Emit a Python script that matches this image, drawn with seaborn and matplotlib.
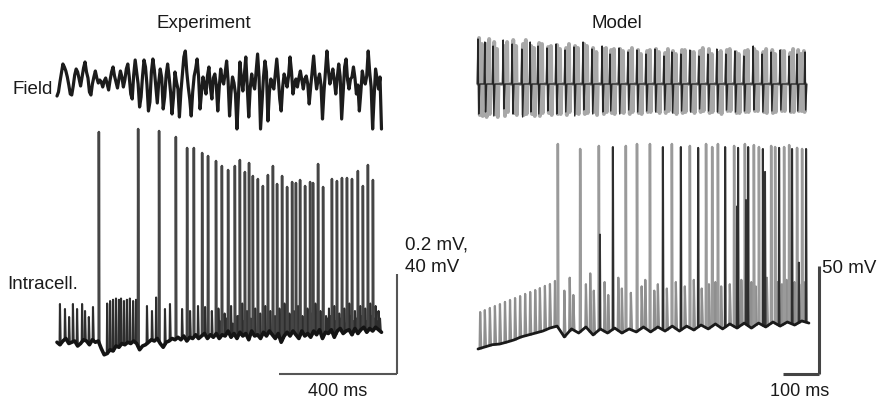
import numpy as np
import pandas as pd
import matplotlib
matplotlib.use("Agg")
import matplotlib.pyplot as plt
import seaborn as sns

sns.set_theme(style="white")
plt.rcParams["font.family"] = ["Liberation Sans", "DejaVu Sans"]

# ---------------- DATA ----------------
# Experiment: field potential (µV), sampled every 5 ms
exp_field_step_ms = 5
exp_field_uv = [-28, -20, 0, 18, 36, 30, 22, 10, -6, -24, -26,
                -8, 14, 26, 20, 6, -8, 10, 28, 40, 20, 8,
                -20, -26, -4, 10, 22, 8, -2, 4, 0, -10, 2,
                8, -4, -16, 4, 20, 30, 12, 0, -12, 6, 22,
                10, -10, 4, 26, 36, 10, -24, -34, 14, 44, 20,
                -4, -50, -30, 12, 44, 30, -6, -58, -40, 20, 46,
                24, -10, -42, 0, 26, 8, -54, -30, 14, 36, 10,
                -20, -64, -30, 20, 0, -14, -70, -20, 16, 50, 62,
                20, -10, -34, -68, -20, 12, 26, 46, 10, -54, -20,
                10, -6, -24, 12, 30, -10, -34, 8, 16, -6, -58,
                -10, 26, 4, -4, 18, 42, 2, -68, -20, 10, -2,
                -24, -94, -30, 40, 8, -18, 14, 50, -10, -70, -12,
                16, -4, -14, 20, 56, 10, -94, -40, 10, 42, 20,
                -78, -20, 6, -6, -14, 16, 46, 10, -34, -58, -10,
                16, 4, -10, 12, 50, 20, -24, -4, 6, -10, 8,
                22, 4, -14, 6, 12, -4, -44, -10, 20, 52, 14,
                -14, 4, 16, -6, -74, -20, 20, 62, 24, -4, 10,
                26, 4, -24, 8, 36, 10, -74, -20, 30, 46, 4,
                -14, 6, 10, 30, 8, -24, -6, -58, -20, 22, 4,
                -4, 12, 62, 20, -10, -94, -30, 26, 6, -14, 10,
                -94]

# Experiment: intracellular baseline (mV), sampled every 10 ms
exp_base_step_ms = 10
exp_base_mv = [-65.5, -66.5, -65, -64, -66, -65.5, -65, -67, -66, -64.5, -65, -66.5, -64.5, -65.5, -65,
               -68, -70.5, -70, -68.5, -69, -67, -67.5, -66, -66.5, -65.5, -66, -65, -66,
               -68.5, -67, -66.5, -65.5, -64.5, -65, -64, -66, -67.5, -65.5, -65, -64, -64.5,
               -63.5, -64.5, -63, -65, -63.5, -64, -62.5, -64, -63, -62, -64, -62.5, -63.5, -62,
               -64, -62.5, -63, -61, -63.5, -62, -64, -61.5, -63, -62, -64.5, -61, -63, -62.5, -64, -61.5,
               -63, -61, -62.5, -64, -62, -65.5, -63, -61.5, -63, -61, -62.5, -64, -61, -63, -62, -63.5,
               -61, -62.5, -60.5, -64, -61.5, -62, -60.5, -63.5, -61, -60, -62, -61, -60.5, -62.5, -60, -62,
               -60.5, -59.5, -61.5, -60, -61, -59.5, -60.5, -61.5]

# Experiment: action potentials (time ms, peak mV)
exp_spike_t = [142, 275, 346, 403, 441, 464, 492, 512, 539, 559, 580, 603, 620, 637, 651, 664, 681,
               698, 715, 732, 746, 763, 780, 797, 810, 824, 841, 858, 868, 885, 902, 932, 949, 966,
               983, 1000, 1020, 1037, 1054, 1071]
exp_spike_v = [18.6, 19.8, 19.0, 16.6, 12.2, 12.2, 10.2, 9.0, 7.0, 5.0, 3.4, 5.0, 7.4, 2.6, 6.2, 1.0,
               -0.2, -3.0, 1.4, 5.0, -2.2, 1.0, -3.4, -1.4, -1.8, -0.6, -3.0, -1.4, -1.8, 5.8, -3.4,
               -0.2, -1.0, 0.2, 0.2, -0.2, 3.0, -3.0, 5.4, -0.6]

# Experiment: subthreshold events (time ms, peak mV)
exp_small_t = [10, 27, 41, 54, 68, 85, 95, 108, 122,
               170, 180, 190, 200, 210, 217, 227, 237, 247, 258, 268,
               305, 322, 336, 366, 383, 424, 451, 478, 502, 525,
               547, 568, 590, 611, 628, 644, 657, 672, 689, 706, 723, 739, 754, 771, 788, 803, 817,
               832, 849, 863, 876, 893, 912, 922, 940, 957, 974, 991, 1010, 1028, 1045, 1062, 1080, 1090,
               552, 575, 596, 616, 633, 648, 668, 685, 702, 719, 735, 750, 767, 784, 800, 814, 828,
               845, 854, 872, 889, 898, 917, 927, 945, 962, 979, 995, 1005, 1015, 1033, 1050, 1058,
               1067, 1076, 1085, 1095]
exp_small_v = [-50.2, -52.2, -55.4, -50.2, -52.2, -50.2, -53, -55.4, -51.4,
               -50, -49, -48.5, -48, -48.5, -48, -49, -48.5, -48, -49, -48.5,
               -51, -53, -47.6, -52.2, -50.2, -52.2, -53, -51, -51.4, -53,
               -52, -54, -51, -55, -50, -53, -56, -52, -54, -51, -53, -55, -52, -50, -54, -53, -51,
               -55, -52, -54, -50, -53, -55, -52, -51, -54, -52, -50, -53, -51, -52, -50, -51, -53,
               -57, -56, -58, -55, -57, -56, -58, -57, -55, -56, -58, -57, -56, -55, -57, -58, -56,
               -57, -55, -56, -58, -57, -56, -55, -57, -56, -58, -55, -57, -56, -55, -57, -56,
               -55, -56, -57, -56]

# Model: field (a.u.), overlaid traces, events (time ms, up, down)
mod_fk_t = [0, 19, 42, 70, 95, 122, 145, 167, 192, 217, 242, 267, 292, 317, 345, 367, 392, 417, 442,
            467, 492, 517, 539, 564, 589, 614, 639, 664, 689, 714, 739, 765, 790, 815, 840, 865, 887, 909]
mod_fk_up = [45, 42, 38, 44, 40, 35, 42, 38, 36, 40, 34, 37, 42, 35, 38, 30, 36, 32, 34, 30, 35, 28,
             32, 30, 34, 28, 30, 35, 30, 33, 28, 38, 30, 32, 34, 28, 30, 32]
mod_fk_dn = [-30, -28, -32, -25, -30, -33, -28, -30, -27, -30, -28, -32, -26, -30, -28, -27, -30, -26,
             -28, -27, -28, -26, -29, -27, -28, -25, -27, -28, -26, -28, -27, -26, -28, -27, -26, -28,
             -27, -26]
mod_fg_t = [11, 31, 53, 81, 106, 133, 156, 178, 203, 228, 253, 278, 303, 329, 356, 378, 403, 428, 453,
            478, 503, 528, 550, 575, 600, 625, 650, 675, 700, 725, 750, 776, 801, 826, 851, 876, 898,
            3, 22, 45, 73, 98, 125, 148, 170, 195, 220, 245, 270, 295, 320, 348, 370, 395, 420, 445,
            470, 495, 520, 542, 567, 592, 617, 642, 667, 692, 717, 742, 768, 793, 818, 843, 868, 890, 906]
mod_fg_up = [40, 45, 35, 42, 38, 44, 36, 40, 38, 35, 40, 36, 38, 32, 36, 35, 33, 36, 30, 34, 32, 35,
             30, 34, 32, 36, 30, 33, 35, 30, 34, 32, 35, 30, 33, 35, 30,
             46, 40, 42, 38, 44, 40, 38, 41, 37, 39, 36, 38, 40, 36, 35, 34, 35, 33, 34,
             33, 35, 31, 33, 34, 32, 33, 35, 31, 34, 32, 33, 35, 32, 34, 33, 31, 34, 33]
mod_fg_dn = [-32, -30, -33, -28, -31, -30, -32, -29, -31, -30, -28, -30, -29, -31, -28, -30, -29, -28,
             -30, -28, -29, -27, -30, -28, -29, -27, -28, -30, -27, -29, -28, -27, -29, -28, -27, -28, -27,
             -31, -33, -30, -32, -29, -31, -30, -32, -29, -30, -31, -29, -30, -28, -30, -29, -28, -30,
             -29, -28, -27, -29, -28, -29, -27, -28, -29, -28, -27, -29, -28, -27, -28, -29, -27, -28,
             -27, -28]

# Model: intracellular baseline (mV) every 20 ms
mod_base_step_ms = 20
mod_base_mv = [-75, -74, -73, -72.7, -71.8, -70.8, -69.4, -68.5, -67.6, -66.7, -65.3, -64.4, -69.4,
               -65.7, -67.6, -64.8, -68.5, -65.7, -67.6, -65.3, -67.6, -65.7, -67.1, -64.8, -67.1,
               -64.8, -66.7, -64.4, -66.7, -64.4, -66.2, -63.9, -65.7, -63.4, -65.7, -63.4, -65.3,
               -63, -65.3, -63, -64.8, -62.5, -64.4, -62.5, -63.9, -62, -63]

# Model: spikes (time ms, peak mV, trace: 'g' grey / 'k' black)
mod_spike_t = [222, 284, 336, 375, 411, 442, 478, 514, 539, 564, 589, 612, 634, 651, 667, 687, 712,
               723, 742, 751, 767, 781, 792, 815, 826, 837, 851, 865, 873, 887, 901, 912]
mod_spike_v = [19.9, 17.6, 19.0, 18.5, 19.0, 19.9, 19.9, 18.5, 19.9, 18.5, 19.0, 18.1, 19.9, 18.5,
               19.9, 18.5, 19.0, 18.1, 19.9, 18.5, 19.4, 18.5, 17.6, 19.0, 18.5, 18.1, 18.5, 19.4,
               17.6, 18.1, 17.6, 17.6]
mod_spike_tr = ["g", "g", "g", "k", "g", "g", "g", "k", "g", "k", "g", "k", "g", "g", "g", "k", "g",
                "k", "g", "k", "g", "g", "k", "g", "g", "k", "g", "g", "k", "g", "g", "k"]

# Model: partial (black trace) spikes
mod_part_t = [339, 720, 745, 798, 892]
mod_part_v = [-22, -9, -6, 7, -35]

# Model: subthreshold events (grey trace)
mod_small_t = [6, 19, 33, 47, 61, 75, 89, 103, 117, 131, 145, 159, 172, 186, 200, 214,
               240, 255, 265, 300, 312, 322, 352, 362, 390, 400, 425, 455, 465, 490, 500, 525, 550,
               575, 600, 622, 642, 660, 676, 700, 732, 760, 772, 803, 832, 845, 858, 880, 893, 906]
mod_small_v = [-57.9, -57, -56, -55.1, -54.2, -53.2, -52.3, -51.4, -50.5, -49.5, -48.6, -47.7, -46.8,
               -45.8, -44.9, -43.5,
               -48, -42, -50, -45, -40, -48, -44, -50, -42, -47, -49, -46, -43, -48, -45, -47, -44,
               -46, -43, -47, -45, -44, -46, -45, -43, -44, -46, -42, -44, -45, -43, -44, -45, -44]

# ---------------- FIGURE ----------------
W, H = 877, 402
fig = plt.figure(figsize=(W / 100, H / 100), dpi=100)


def make_ax(x0, x1, y0, y1, px2x, px2y):
    ax = fig.add_axes([x0 / W, 1 - y1 / H, (x1 - x0) / W, (y1 - y0) / H])
    ax.set_xlim(px2x(x0), px2x(x1))
    ax.set_ylim(px2y(y1), px2y(y0))
    ax.set_axis_off()
    return ax


# pixel <-> data mappings (layout)
ex = lambda p: (p - 57) * 3.39
ax_ef = make_ax(40, 420, 30, 150, ex, lambda p: (83 - p) * 2.0)
ax_ei = make_ax(40, 420, 110, 395, ex, lambda p: -65 + (342 - p) / 2.5)
mx = lambda p: (p - 478) * 2.78
ax_mf = make_ax(460, 860, 20, 140, mx, lambda p: 85 - p)
ax_mi = make_ax(460, 860, 110, 395, mx, lambda p: -75 + (350 - p) / 2.16)


def spikes_df(ts, vs, base_t, base_v, w=0.6):
    rows = []
    for i, (t, v) in enumerate(zip(ts, vs)):
        b = float(np.interp(t, base_t, base_v))
        rows += [(t - w * 0.5, b, i), (t, v, i), (t + w, b, i)]
    return pd.DataFrame(rows, columns=["t", "v", "id"])


def draw_units(ax, df, color, lw):
    if len(df):
        sns.lineplot(data=df, x="t", y="v", units="id", estimator=None, sort=False,
                     color=color, lw=lw, ax=ax, legend=False)


# ---- Experiment field
ef_t = np.arange(len(exp_field_uv)) * exp_field_step_ms
sns.lineplot(x=ef_t, y=exp_field_uv, ax=ax_ef, color="#1c1c1c", lw=2.3, sort=False, estimator=None)

# ---- Experiment intracellular
eb_t = np.arange(len(exp_base_mv)) * exp_base_step_ms
draw_units(ax_ei, spikes_df(exp_small_t, exp_small_v, eb_t, exp_base_mv, w=2.5), "#2e2e2e", 1.5)
draw_units(ax_ei, spikes_df(exp_spike_t, exp_spike_v, eb_t, exp_base_mv, w=1.5), "#454545", 1.8)
sns.lineplot(x=eb_t, y=exp_base_mv, ax=ax_ei, color="#141414", lw=2.6, sort=False, estimator=None)

# scale bars (experiment)
ax_ei.plot([753, 1153], [-78.2, -78.2], color="#555555", lw=1.5, clip_on=False, solid_capstyle="butt")
ax_ei.plot([1153, 1153], [-78.2, -38.2], color="#555555", lw=1.5, clip_on=False, solid_capstyle="butt")


# ---- Model field
def field_trace(ts, ups, dns, a, b, c):
    order = np.argsort(ts)
    xs, ys = [], []
    for i in order:
        t, u, d = ts[i], ups[i], dns[i]
        xs += [t - a, t, t + b, t + c]
        ys += [0, u, d, 0]
    return np.array(xs), np.array(ys)


gx, gy = field_trace(mod_fg_t, mod_fg_up, mod_fg_dn, 2, 2, 4)
sns.lineplot(x=gx, y=gy, ax=ax_mf, color="#a8a8a8", lw=2.8, sort=False, estimator=None)
kx, ky = field_trace(mod_fk_t, mod_fk_up, mod_fk_dn, 2, 2, 5)
sns.lineplot(x=kx, y=ky, ax=ax_mf, color="#262626", lw=1.0, sort=False, estimator=None)

# ---- Model intracellular
mb_t = np.arange(len(mod_base_mv)) * mod_base_step_ms
draw_units(ax_mi, spikes_df(mod_small_t, mod_small_v, mb_t, mod_base_mv, w=3.0), "#8f8f8f", 1.6)
g_t = [t for t, r in zip(mod_spike_t, mod_spike_tr) if r == "g"]
g_v = [v for v, r in zip(mod_spike_v, mod_spike_tr) if r == "g"]
k_t = [t for t, r in zip(mod_spike_t, mod_spike_tr) if r == "k"]
k_v = [v for v, r in zip(mod_spike_v, mod_spike_tr) if r == "k"]
draw_units(ax_mi, spikes_df(g_t, g_v, mb_t, mod_base_mv, w=1.5), "#9a9a9a", 1.8)
draw_units(ax_mi, spikes_df(mod_part_t, mod_part_v, mb_t, mod_base_mv, w=1.5), "#333333", 1.4)
draw_units(ax_mi, spikes_df(k_t, k_v, mb_t, mod_base_mv, w=1.5), "#2e2e2e", 1.5)
sns.lineplot(x=mb_t, y=mod_base_mv, ax=ax_mi, color="#1a1a1a", lw=2.0, sort=False, estimator=None)

# scale bars (model)
ax_mi.plot([848, 948], [-86.6, -86.6], color="#444444", lw=2.2, clip_on=False, solid_capstyle="butt")
ax_mi.plot([948, 948], [-86.6, -36.6], color="#444444", lw=2.2, clip_on=False, solid_capstyle="butt")

# ---- Text
fs = 13.5


def ptext(x, y, s, ha="left", size=fs):
    fig.text(x / W, 1 - y / H, s, ha=ha, va="baseline", fontsize=size, color="#1a1a1a")


ptext(204, 28, "Experiment", ha="center")
ptext(617, 28, "Model", ha="center")
ptext(12, 94, "Field")
ptext(7, 289, "Intracell.")
ptext(405, 250, "0.2 mV,")
ptext(405, 272, "40 mV")
ptext(822, 273, "50 mV")
ptext(338, 396, "400 ms", ha="center", size=13)
ptext(800, 396, "100 ms", ha="center", size=13)

fig.savefig("out.png", dpi=100)
